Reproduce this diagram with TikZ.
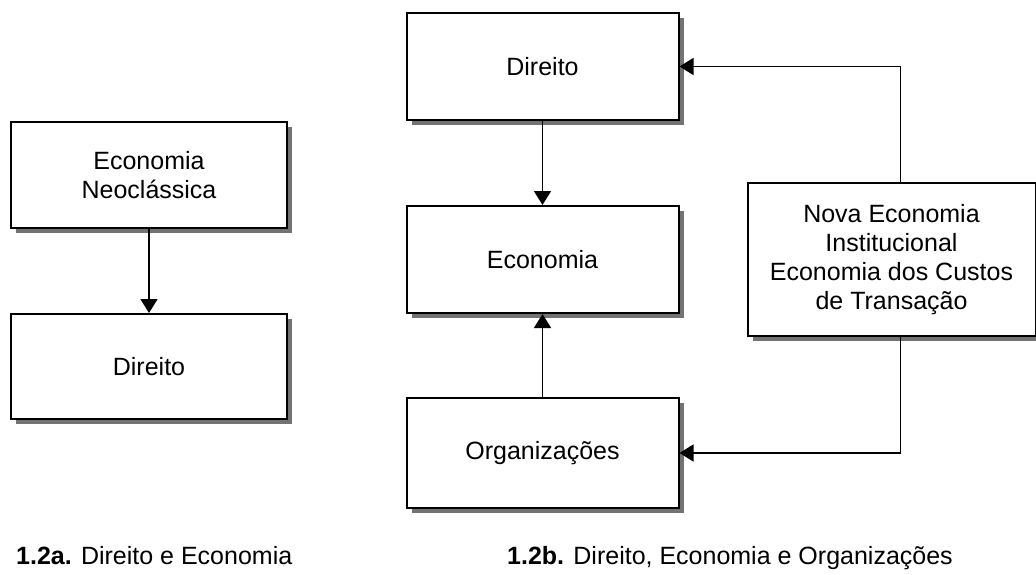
\documentclass[tikz,border=0pt]{standalone}
\usepackage{fontspec}
\setmainfont{Liberation Sans}
\usetikzlibrary{arrows.meta,shadows,positioning}
\tikzset{>={Triangle[length=14pt,width=17pt]}}
\tikzset{
	frame/.style={
		rectangle, draw, line width=2pt,
		align=center, fill=white,
		minimum width=272pt, minimum height=107pt,
		drop shadow={shadow xshift=5pt,shadow yshift=-5pt,fill=black!55,opacity=1},
		font=\fontsize{25}{29}\selectfont,
	},
	line/.style={
		draw, line width=1.5pt, ->,
	},
	caption/.style={
		anchor=base west, inner sep=0pt,
		font=\fontsize{25}{29}\selectfont,
	}
}

\begin{document}
\begin{tikzpicture}[x=1pt, y=-1pt]
	\useasboundingbox (0,0) rectangle (1036,575);
	% 1.2a
	\node [frame, minimum width=276pt, minimum height=106pt] (neo) at (149,175) {Economia\\Neoclássica};
	\node [frame, minimum width=276pt, minimum height=105pt, below=84pt of neo] (dirA) {Direito};
	\draw[line] (neo) -- (dirA);
	% 1.2b
	\node [frame] (dirB) at (542.5,66.5) {Direito};
	\node [frame, below=84pt of dirB] (econB) {Economia};
	\node [frame, minimum height=110pt, below=83pt of econB] (org) {Organizações};
	\node [frame, minimum width=288pt, minimum height=153pt, right=67pt of econB] (nova) {Nova Economia\\Institucional\\Economia dos Custos\\de Transação};
	\draw[line] (dirB) -- (econB);
	\draw[line] (org) -- (econB);
	% Feedback lines
	\coordinate (novaN) at ([xshift=9pt]nova.north);
	\coordinate (novaS) at ([xshift=9pt]nova.south);
	\draw[line] (novaN) |- (dirB.east);
	\draw[line] (novaS) |- (org.east);
	% Captions
	\node [caption] (capA) at (16,564) {\textbf{1.2a.} Direito e Economia};
	\node [caption] (capB) at (507,564) {\textbf{1.2b.} Direito, Economia e Organizações};
\end{tikzpicture}
\end{document}
